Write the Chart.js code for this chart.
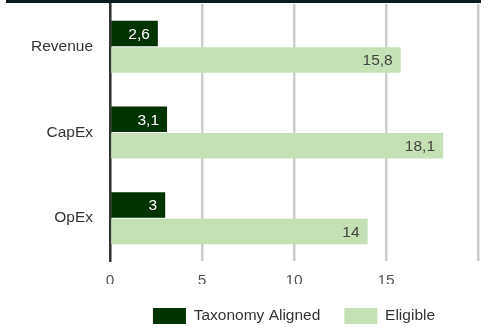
<!DOCTYPE html>
<html>
<head>
<meta charset="utf-8">
<script src="https://cdn.jsdelivr.net/npm/chart.js@4.4.1/dist/chart.umd.min.js"></script>
<style>
  html, body { margin: 0; padding: 0; background: #fff; }
  .wrap { position: relative; width: 488px; height: 328px; }
  .topline { position: absolute; left: 6px; top: 0; width: 475px; height: 3px; background: #0b1a1f; }
  canvas { display: block; }
</style>
</head>
<body>
<div class="wrap">
  <canvas id="kpi" width="488" height="328"></canvas>
  <div class="topline"></div>
</div>
<script>
const categories = ["Revenue", "CapEx", "OpEx"];
const aligned = [2.6, 3.1, 3];
const eligible = [15.8, 18.1, 14];
const xTicks = [0, 5, 10, 15];

const FONT = "'Liberation Sans', Arial, sans-serif";
const fmt = (v) => String(v).replace(".", ",");

// value text drawn inside the end of each bar
const barLabels = {
  id: "barLabels",
  afterDatasetsDraw(chart) {
    const ctx = chart.ctx;
    ctx.save();
    ctx.font = "15.5px " + FONT;
    ctx.textAlign = "right";
    ctx.textBaseline = "middle";
    chart.data.datasets.forEach((ds, i) => {
      const meta = chart.getDatasetMeta(i);
      ctx.fillStyle = i === 0 ? "#ffffff" : "#444444";
      meta.data.forEach((bar, j) => {
        ctx.fillText(fmt(ds.data[j]), bar.x - 8, bar.y + 1);
      });
    });
    ctx.restore();
  },
};

new Chart(document.getElementById("kpi"), {
  type: "bar",
  data: {
    labels: categories,
    datasets: [
      {
        label: "Taxonomy Aligned",
        data: aligned,
        backgroundColor: "#003300",
        barPercentage: 0.96,
        categoryPercentage: 0.62,
      },
      {
        label: "Eligible",
        data: eligible,
        backgroundColor: "#c5e0b4",
        barPercentage: 0.96,
        categoryPercentage: 0.62,
      },
    ],
  },
  options: {
    indexAxis: "y",
    responsive: false,
    animation: false,
    layout: { padding: { top: 4, right: 7, left: 0, bottom: 0 } },
    scales: {
      x: {
        min: 0,
        max: 20,
        grid: { color: "#cccccc", lineWidth: 2.5, drawTicks: false },
        border: { display: false },
        ticks: {
          stepSize: 5,
          padding: 10,
          color: "#555555",
          font: { family: FONT, size: 15.5 },
          callback: (v) => (xTicks.includes(v) ? v : ""),
        },
        afterFit: (s) => { s.height = 23; },
      },
      y: {
        grid: { display: false },
        border: { display: true, color: "#333333", width: 2.5 },
        ticks: {
          padding: 9,
          color: "#333333",
          font: { family: FONT, size: 15.5 },
        },
        afterFit: (s) => {
          s.width = 110;
          s.paddingTop = 0;
          s.paddingBottom = 0;
        },
      },
    },
    plugins: {
      legend: {
        position: "bottom",
        fullSize: false,
        maxHeight: 44,
        labels: {
          boxWidth: 33,
          boxHeight: 16,
          padding: 24,
          color: "#333333",
          font: { family: FONT, size: 15.5 },
        },
      },
      tooltip: { enabled: false },
    },
  },
  plugins: [barLabels],
});
</script>
</body>
</html>
